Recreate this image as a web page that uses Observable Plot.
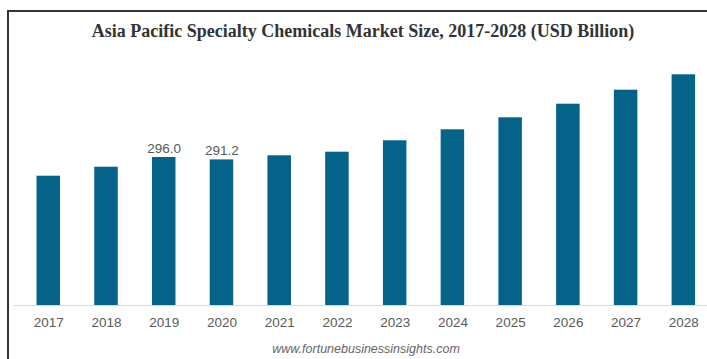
<!DOCTYPE html>
<html><head><meta charset="utf-8">
<script src="https://cdn.jsdelivr.net/npm/d3@7"></script>
<script src="https://cdn.jsdelivr.net/npm/@observablehq/plot@0.6"></script>
<style>
body{margin:0;background:#fff;width:707px;height:359px;overflow:hidden;position:relative;font-family:"Liberation Sans",Arial,sans-serif}
#frame{position:absolute;left:7px;top:10px;width:720px;height:360px;border-top:2px solid #333;border-left:2px solid #333}
#title{position:absolute;left:0;top:22px;width:726px;text-align:center;font:bold 18px/18px "Liberation Serif","Times New Roman",serif;color:#333}
#chart{position:absolute;left:0;top:48px}
#caption{position:absolute;left:0;top:343px;width:732px;text-align:center;font:italic 12.5px/12.5px "Liberation Sans",Arial,sans-serif;color:#666}
</style></head><body>
<div id="frame"></div>
<div id="title">Asia Pacific Specialty Chemicals Market Size, 2017-2028 (USD Billion)</div>
<div id="chart"></div>
<div id="caption">www.fortunebusinessinsights.com</div>
<script>
const years = ["2017","2018","2019","2020","2021","2022","2023","2024","2025","2026","2027","2028"];
const values = [258.6, 276.6, 296.0, 291.2, 299.4, 306.6, 329.4, 351.4, 375.4, 402.6, 430.6, 461.4];
const labels = [null, null, "296.0", "291.2", null, null, null, null, null, null, null, null];

const data = years.map((y, i) => ({year: y, value: values[i], label: labels[i]}));

const chart = Plot.plot({
  width: 707,
  height: 290,
  marginLeft: 14,
  marginRight: 0,
  marginTop: 7,
  marginBottom: 33,
  style: {fontFamily: "'Liberation Sans', Arial, sans-serif", color: "#595959", background: "transparent"},
  x: {domain: years, range: [14, 717.6], paddingInner: 0.593, paddingOuter: 0.39, round: false, label: null},
  y: {domain: [0, 500], axis: null},
  marks: [
    Plot.ruleY([0], {stroke: "#d9d9d9", strokeWidth: 1.2}),
    Plot.barY(data, {x: "year", y: "value", fill: "#05638a"}),
    Plot.text(data.filter(d => d.label), {x: "year", y: "value", text: "label", dy: -4.5, lineAnchor: "bottom", fontSize: 13.5, fill: "#595959"}),
    Plot.axisX({tickSize: 0, tickPadding: 12, fontSize: 13.5, label: null})
  ]
});
document.getElementById("chart").appendChild(chart);
</script>
</body></html>
